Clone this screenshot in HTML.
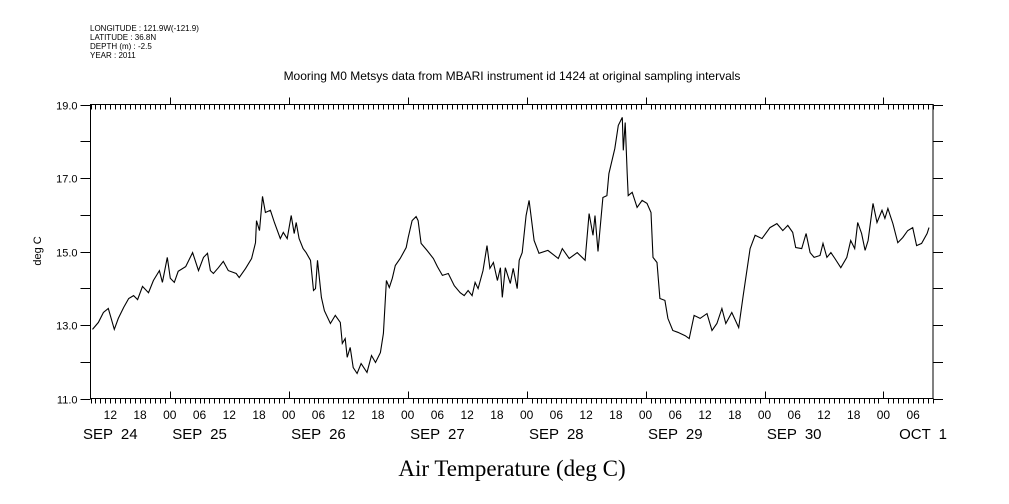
<!DOCTYPE html>
<html><head><meta charset="utf-8"><style>
body{margin:0;background:#fff}
svg{display:block;font-family:"Liberation Sans",sans-serif}
</style></head><body>
<svg id="chart" width="1009" height="504" viewBox="0 0 1009 504" xmlns="http://www.w3.org/2000/svg">
<rect width="1009" height="504" fill="#fff"/>
<g font-size="8" fill="#000">
<text x="90" y="31">LONGITUDE : 121.9W(-121.9)</text>
<text x="90" y="40">LATITUDE : 36.8N</text>
<text x="90" y="49">DEPTH (m) : -2.5</text>
<text x="90" y="58">YEAR : 2011</text>
</g>
<text x="512" y="80" text-anchor="middle" font-size="12">Mooring M0 Metsys data from MBARI instrument id 1424 at original sampling intervals</text>
<text x="0" y="0" transform="translate(41,251) rotate(-90)" text-anchor="middle" font-size="11">deg C</text>
<text x="512" y="476" text-anchor="middle" font-size="23" font-family="'Liberation Serif',serif">Air Temperature (deg C)</text>
<g id="axes"></g>
<g id="series"></g>
</svg>
<script>
// data: hours since Sep 24 08:00, temperature (deg C)
const hours=[0.4,1.6,2.6,3.6,4.0,4.8,5.6,6.7,7.7,8.7,9.5,10.5,11.7,12.7,13.9,14.5,15.5,16.1,16.9,17.7,19.2,20.6,21.8,22.8,23.6,24.2,24.8,25.8,26.8,27.8,29.4,30.0,31.3,32.5,33.3,33.5,34.1,34.7,35.3,36.3,37.1,38.3,38.9,39.7,40.5,41.1,41.5,42.1,42.9,43.5,44.4,45.0,45.4,45.8,46.6,47.2,48.4,49.4,50.4,50.8,51.4,51.8,52.4,53.0,53.8,54.6,55.8,56.7,57.5,58.5,59.1,59.7,60.3,60.9,61.5,62.5,63.7,64.1,64.9,65.7,66.1,66.7,67.9,69.2,70.0,71.0,72.2,73.4,74.6,75.4,76.2,77.0,77.6,78.2,79.2,80.0,80.6,81.3,82.1,82.7,83.1,83.7,84.7,85.3,86.1,86.5,87.1,87.9,88.5,89.5,90.5,92.3,94.4,95.2,96.6,98.2,99.8,100.6,101.4,101.8,102.4,103.4,104.2,104.6,105.8,106.5,107.3,107.5,107.9,108.3,108.5,109.3,110.3,111.3,112.3,113.1,113.5,114.3,114.9,115.9,116.5,117.5,118.5,120.0,120.8,121.8,123.0,124.4,125.4,126.4,127.4,128.2,129.4,130.8,131.7,133.1,134.1,135.5,137.1,138.5,139.7,140.7,141.7,142.3,143.5,144.4,145.2,146.0,147.2,147.8,148.6,149.4,150.2,151.4,152.6,153.4,154.2,154.8,155.6,156.3,156.9,157.9,158.7,159.7,160.3,160.9,161.9,162.9,163.9,164.9,165.9,166.7,167.7,168.8,169.2];
const temps=[12.88,13.07,13.34,13.45,13.26,12.88,13.18,13.48,13.72,13.80,13.69,14.05,13.88,14.21,14.48,14.16,14.84,14.27,14.16,14.46,14.59,14.97,14.48,14.84,14.95,14.48,14.40,14.56,14.73,14.48,14.40,14.29,14.54,14.81,15.24,15.84,15.57,16.50,16.06,16.12,15.79,15.35,15.52,15.35,15.98,15.49,15.79,15.35,15.08,14.97,14.76,13.94,13.99,14.76,13.75,13.39,13.04,13.26,13.07,12.50,12.63,12.12,12.39,11.84,11.68,11.95,11.71,12.17,11.98,12.25,12.77,14.21,14.02,14.27,14.62,14.81,15.11,15.38,15.84,15.95,15.84,15.22,15.03,14.81,14.59,14.35,14.40,14.07,13.88,13.80,13.94,13.80,14.16,13.99,14.48,15.16,14.54,14.70,14.21,14.56,13.75,14.56,14.13,14.54,13.99,14.76,14.97,15.98,16.39,15.30,14.95,15.03,14.81,15.08,14.81,14.97,14.76,16.03,15.44,15.98,15.00,16.47,16.52,17.12,17.80,18.43,18.65,17.75,18.51,17.12,16.52,16.61,16.20,16.39,16.31,16.06,14.84,14.70,13.72,13.67,13.18,12.85,12.80,12.71,12.63,13.26,13.18,13.31,12.85,13.04,13.45,13.04,13.34,12.93,13.80,15.08,15.44,15.35,15.65,15.76,15.57,15.71,15.52,15.11,15.08,15.49,14.97,14.84,14.89,15.22,14.84,14.97,14.81,14.56,14.84,15.30,15.08,15.79,15.49,15.03,15.30,16.31,15.79,16.12,15.90,16.17,15.76,15.24,15.38,15.57,15.65,15.16,15.22,15.49,15.65];
const yTicks=[11,12,13,14,15,16,17,18,19];
const yTickLabels=["11.0","","13.0","","15.0","","17.0","","19.0"];
const hourLabels=["12","18","00","06","12","18","00","06","12","18","00","06","12","18","00","06","12","18","00","06","12","18","00","06","12","18","00","06"];
const dayLabels=["SEP 24","SEP 25","SEP 26","SEP 27","SEP 28","SEP 29","SEP 30","OCT 1"];

const X0=90.5,X1=933,Y0=104.5,Y1=398.5,HMAX=170,TMIN=11,TMAX=19;
const xs=h=>X0+(X1-X0)*h/HMAX;
const ys=t=>Y1-(Y1-Y0)*(t-TMIN)/(TMAX-TMIN);
const NS="http://www.w3.org/2000/svg";
const axes=document.getElementById('axes');
function mk(tag,attrs,parent){const e=document.createElementNS(NS,tag);for(const k in attrs)e.setAttribute(k,attrs[k]);parent.appendChild(e);return e;}

const frame=mk('rect',{x:X0,y:Y0,width:X1-X0,height:Y1-Y0,fill:'none',stroke:'#000','stroke-width':1},axes);



yTicks.forEach((v,i)=>{
  const y=Math.round(ys(v))+0.5;
  const l=mk('line',{x1:X0-10,x2:X0,y1:y,y2:y,stroke:'#000'},axes);
  
  
  const r=mk('line',{x1:X1,x2:X1+10,y1:y,y2:y,stroke:'#000'},axes);
  
  
  if(yTickLabels[i]){
    const t=mk('text',{x:X0-13,y:y+4,'text-anchor':'end','font-size':11},axes);
    t.textContent=yTickLabels[i];
    
    
  }
});

// hourly ticks; start hour = 8 (Sep 24 08:00)
for(let h=0;h<=HMAX;h++){
  const clock=(h+8)%24;
  const x=Math.round(xs(h))+0.5;
  const major=clock===0;
  const tb=mk('line',{x1:x,x2:x,y1:major?Y1-7:Y1,y2:major?Y1:Y1+5,stroke:'#000'},axes);
  
  
  const tt=mk('line',{x1:x,x2:x,y1:major?Y0-7:Y0,y2:major?Y0:Y0+5,stroke:'#000'},axes);
  
  
}
// hour labels every 6 hours starting at hour 4 (12:00)
hourLabels.forEach((lab,i)=>{
  const h=4+6*i;
  const t=mk('text',{x:xs(h),y:419,'text-anchor':'middle','font-size':12},axes);
  t.textContent=lab;
  
  
});
// day labels centered near 06:00 of each day
dayLabels.forEach((lab,i)=>{
  const h=(i===0?4:-2+24*i)+(i===7?2:0);
  const t=mk('text',{x:xs(h),y:439,'text-anchor':'middle','font-size':15,'word-spacing':4},axes);
  t.textContent=lab;
  
  
});

const series=document.getElementById('series');
const d=hours.map((h,i)=>(i?'L':'M')+xs(h).toFixed(1)+','+ys(temps[i]).toFixed(1)).join(' ');
const line=mk('path',{d:d,fill:'none',stroke:'#000','stroke-width':1.1,'stroke-linejoin':'miter'},series);


</script>
</body></html>
